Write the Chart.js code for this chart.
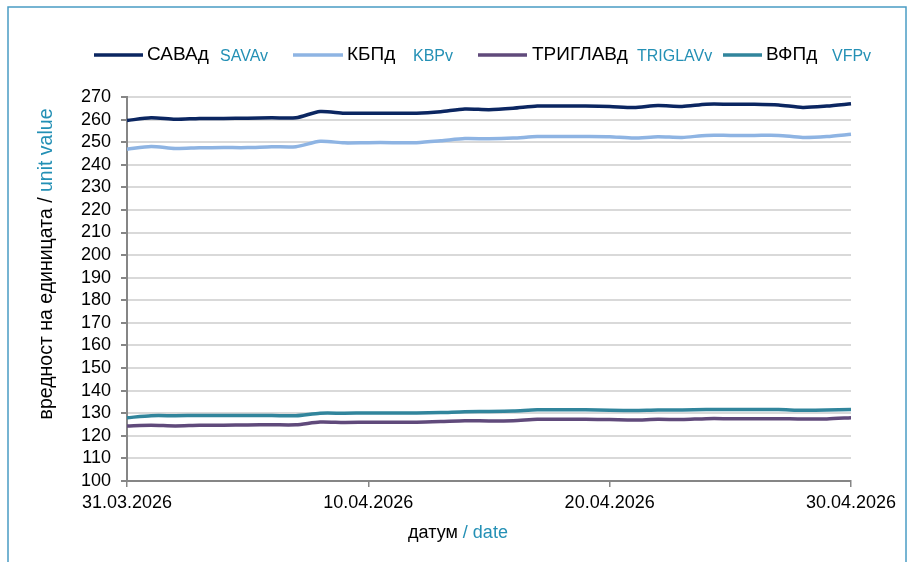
<!DOCTYPE html>
<html>
<head>
<meta charset="utf-8">
<script src="https://cdn.jsdelivr.net/npm/chart.js@4/dist/chart.umd.min.js"></script>
<style>
  html, body { margin: 0; padding: 0; background: #ffffff; }
  #wrap { position: relative; width: 915px; height: 562px; }
  canvas { display: block; }
</style>
</head>
<body>
<div id="wrap"><canvas id="c" width="915" height="562"></canvas></div>
<script>
// ---- data ----
const dates = [
  "31.03.2026","01.04.2026","02.04.2026","03.04.2026","04.04.2026","05.04.2026","06.04.2026",
  "07.04.2026","08.04.2026","09.04.2026","10.04.2026","11.04.2026","12.04.2026","13.04.2026",
  "14.04.2026","15.04.2026","16.04.2026","17.04.2026","18.04.2026","19.04.2026","20.04.2026",
  "21.04.2026","22.04.2026","23.04.2026","24.04.2026","25.04.2026","26.04.2026","27.04.2026",
  "28.04.2026","29.04.2026","30.04.2026"
];
const savaValues = [
  259.6, 260.8, 260.1, 260.5, 260.5, 260.6, 260.8, 260.8, 263.6, 262.8, 262.8,
  262.8, 262.8, 263.5, 264.7, 264.4, 265.0, 266.0, 266.0, 266.0, 265.8,
  265.3, 266.2, 265.8, 266.8, 266.8, 266.8, 266.5, 265.4, 266.0, 267.0
];
const kbpValues = [
  246.9, 248.1, 247.2, 247.5, 247.6, 247.6, 248.0, 248.0, 250.4, 249.7, 249.8,
  249.8, 249.8, 250.6, 251.6, 251.5, 251.8, 252.5, 252.5, 252.5, 252.4,
  251.8, 252.4, 252.1, 253.0, 253.0, 253.0, 253.0, 252.1, 252.5, 253.5
];
const triglavValues = [
  124.4, 124.7, 124.4, 124.7, 124.7, 124.8, 124.9, 124.9, 126.1, 125.9, 126.0,
  126.0, 126.0, 126.3, 126.7, 126.6, 126.7, 127.3, 127.3, 127.3, 127.2,
  127.0, 127.3, 127.2, 127.6, 127.6, 127.6, 127.6, 127.4, 127.5, 128.0
];
const vfpValues = [
  128.0, 128.9, 128.9, 129.0, 129.0, 129.0, 129.0, 128.9, 130.0, 130.0, 130.1,
  130.1, 130.1, 130.3, 130.7, 130.8, 131.0, 131.5, 131.5, 131.5, 131.3,
  131.2, 131.4, 131.4, 131.6, 131.6, 131.6, 131.6, 131.3, 131.4, 131.7
];
const seriesNamesMk = ["САВАд", "КБПд", "ТРИГЛАВд", "ВФПд"];
const seriesNamesEn = ["SAVAv", "KBPv", "TRIGLAVv", "VFPv"];
const yMin = 100, yMax = 270, yStep = 10;
const xTickEvery = 10;

// ---- styles ----
const colors = ["#0b2661", "#8eb4e3", "#604a7b", "#31859c"];
const enColor = "#2490b5";
const axisColor = "#868686";
const gridColor = "#d9d9d9";
const FONT = "'Liberation Sans', Arial, sans-serif";

const seriesValues = [savaValues, kbpValues, triglavValues, vfpValues];

const legendLayout = [
  { line: [94, 143], mk: 147, en: 220 },
  { line: [293, 343], mk: 347, en: 413 },
  { line: [478, 527], mk: 532, en: 637 },
  { line: [723, 762], mk: 766, en: 832 }
];

const decorPlugin = {
  id: 'decor',
  afterDraw(chart) {
    const ctx = chart.ctx;
    ctx.save();
    // outer frame
    ctx.strokeStyle = "#4a9cc4";
    ctx.lineWidth = 1.5;
    ctx.strokeRect(8, 7, 898, 600);

    // legend
    const ly = 55;
    chart.data.datasets.forEach((ds, i) => {
      const L = legendLayout[i];
      ctx.strokeStyle = ds.borderColor;
      ctx.lineWidth = 3.5;
      ctx.beginPath();
      ctx.moveTo(L.line[0], ly);
      ctx.lineTo(L.line[1], ly);
      ctx.stroke();
      ctx.textBaseline = "middle";
      ctx.textAlign = "left";
      ctx.fillStyle = "#000";
      ctx.font = "19px " + FONT;
      ctx.fillText(seriesNamesMk[i], L.mk, ly);
      ctx.fillStyle = enColor;
      ctx.font = "16px " + FONT;
      ctx.fillText(seriesNamesEn[i], L.en, ly + 2);
    });

    // x title
    ctx.font = "18px " + FONT;
    ctx.textBaseline = "middle";
    ctx.textAlign = "left";
    const xa = "датум", xb = " / date";
    const wa = ctx.measureText(xa).width, wb = ctx.measureText(xb).width;
    const xc = 458, yc = 533;
    let sx = xc - (wa + wb) / 2;
    ctx.fillStyle = "#000";
    ctx.fillText(xa, sx, yc);
    ctx.fillStyle = enColor;
    ctx.fillText(xb, sx + wa, yc);

    // y title (rotated)
    ctx.font = "19.5px " + FONT;
    const ya = "вредност на единицата / ", yb = "unit value";
    const wya = ctx.measureText(ya).width, wyb = ctx.measureText(yb).width;
    ctx.translate(47, 264);
    ctx.rotate(-Math.PI / 2);
    const sy = -(wya + wyb) / 2;
    ctx.fillStyle = "#000";
    ctx.fillText(ya, sy, 0);
    ctx.fillStyle = enColor;
    ctx.fillText(yb, sy + wya, 0);
    ctx.restore();
  }
};

new Chart(document.getElementById('c'), {
  type: 'line',
  data: {
    labels: dates,
    datasets: seriesValues.map((vals, i) => ({
      label: seriesNamesMk[i] + " " + seriesNamesEn[i],
      data: vals,
      borderColor: colors[i],
      backgroundColor: colors[i],
      borderWidth: 3.5,
      pointRadius: 0,
      tension: 0.25,
      fill: false
    }))
  },
  options: {
    responsive: false,
    animation: false,
    devicePixelRatio: 1,
    layout: { padding: { top: 97, right: 64, left: 0, bottom: 0 } },
    plugins: { legend: { display: false }, tooltip: { enabled: false }, title: { display: false } },
    scales: {
      x: {
        type: 'category',
        offset: false,
        afterFit(scale) { scale.height = 81; },
        border: { color: axisColor, width: 2 },
        grid: { drawOnChartArea: false, drawTicks: true, tickLength: 6, color: axisColor, lineWidth: 1.5 },
        ticks: {
          autoSkip: false,
          maxRotation: 0,
          minRotation: 0,
          padding: 5,
          color: "#000",
          font: { family: FONT, size: 18 },
          callback: function (v, i) { return i % xTickEvery === 0 ? dates[i] : null; }
        }
      },
      y: {
        min: yMin,
        max: yMax,
        afterFit(scale) { scale.width = 127; },
        border: { color: axisColor, width: 2 },
        grid: { color: gridColor, lineWidth: 2, tickColor: axisColor, tickLength: 6, drawTicks: true },
        ticks: {
          stepSize: yStep,
          autoSkip: false,
          padding: 10,
          color: "#000",
          font: { family: FONT, size: 18 }
        }
      }
    }
  },
  plugins: [decorPlugin]
});
</script>
</body>
</html>
